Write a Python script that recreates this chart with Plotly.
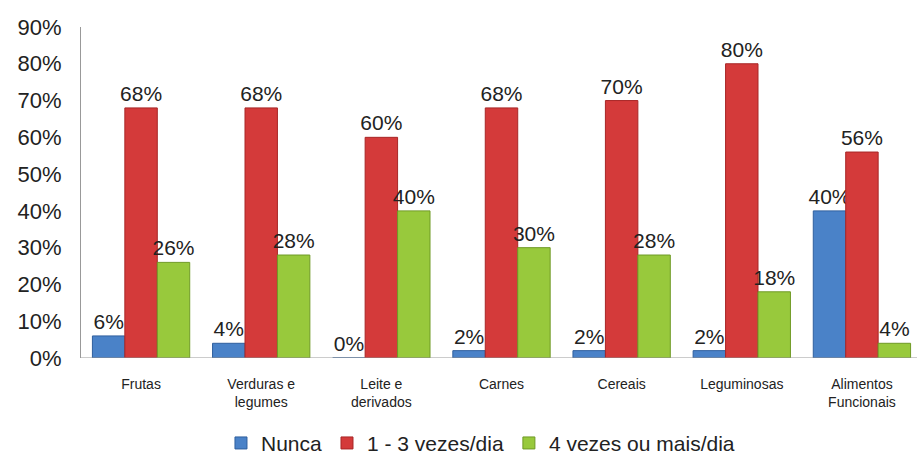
import plotly.graph_objects as go

categories = ["Frutas", "Verduras e<br>legumes", "Leite e<br>derivados", "Carnes",
              "Cereais", "Leguminosas", "Alimentos<br>Funcionais"]
nunca = [6, 4, 0, 2, 2, 2, 40]
vezes_1_3 = [68, 68, 60, 68, 70, 80, 56]
vezes_4_mais = [26, 28, 40, 30, 28, 18, 4]
series_names = ["Nunca", "1 - 3 vezes/dia", "4 vezes ou mais/dia"]
tick_vals = [0, 10, 20, 30, 40, 50, 60, 70, 80, 90]
tick_text = [f"{v}%" for v in tick_vals]

colors = ["#4a82c8", "#d43a3a", "#98c93c"]
borders = ["#2f5f9e", "#a82626", "#6f9a25"]

fig = go.Figure()
for name, vals, c, b in zip(series_names, [nunca, vezes_1_3, vezes_4_mais], colors, borders):
    fig.add_trace(go.Bar(
        x=categories, y=vals, name=name,
        marker=dict(color=c, line=dict(color=b, width=1)),
        text=[f"{v}%" for v in vals], textposition="outside",
        constraintext="none",
        textfont=dict(family="Arial", size=21, color="#222222"),
        cliponaxis=False,
    ))

fig.update_layout(
    width=924, height=457,
    margin=dict(l=81, r=2, t=27, b=99),
    paper_bgcolor="white", plot_bgcolor="white",
    barmode="group", bargap=0.19, bargroupgap=0,
    font=dict(family="Arial", color="#222222"),
    showlegend=True,
    legend=dict(orientation="h", x=0.475, xanchor="center",
                yref="container", y=0.03, yanchor="middle",
                font=dict(size=21, family="Arial", color="#222222"),
                itemwidth=30, traceorder="normal"),
    xaxis=dict(showline=False, ticks="", automargin=False, ticklabelstandoff=16,
               tickfont=dict(size=14, family="Arial", color="#222222")),
    yaxis=dict(range=[0, 90], tickvals=tick_vals, ticktext=tick_text, showgrid=False,
               showline=True, linecolor="#999999", linewidth=1, ticks="", automargin=False,
               ticklabelstandoff=14,
               tickfont=dict(size=22, family="Arial", color="#222222"), zeroline=False),
)
fig.add_hline(y=0, line=dict(color="#999999", width=1))

fig.write_html("out.html", config={"displayModeBar": False},
               post_script="document.body.style.margin='0';document.body.style.overflow='hidden';")
